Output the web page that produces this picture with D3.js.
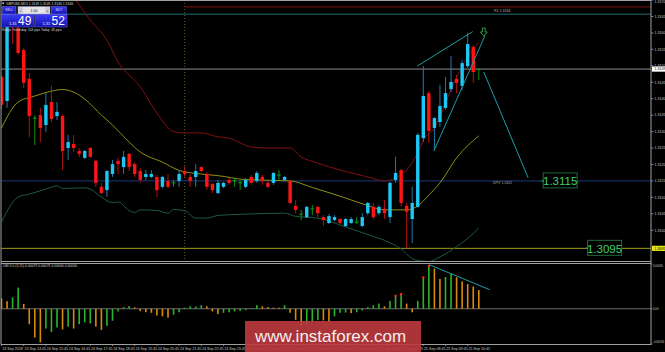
<!DOCTYPE html>
<html>
<head>
<meta charset="utf-8">
<script src="https://cdn.jsdelivr.net/npm/d3@7"></script>
<style>
  html, body { margin: 0; padding: 0; background: #000; }
  svg { display: block; font-family: "Liberation Sans", Arial, sans-serif; }
</style>
</head>
<body>
<svg id="chart" width="665" height="352"></svg>
<script>
const timeLabels = ["24 Sep 2018", "24 Sep 14:45", "24 Sep 15:45", "24 Sep 16:45", "24 Sep 17:45",
  "24 Sep 18:45", "24 Sep 19:45", "24 Sep 20:45", "24 Sep 21:45", "24 Sep 22:45", "24 Sep 23:45",
  "25 Sep 00:45", "25 Sep 01:45", "25 Sep 02:45", "25 Sep 03:45", "25 Sep 04:45", "25 Sep 05:45",
  "25 Sep 06:45", "25 Sep 07:45", "25 Sep 08:45", "25 Sep 09:45", "25 Sep 10:45"];

const priceTicks = [1.3170, 1.3165, 1.3160, 1.3155, 1.3150, 1.3145, 1.3140, 1.3135,
  1.3130, 1.3125, 1.3120, 1.3115, 1.3110, 1.3105, 1.3100];

const opens = [1.31466, 1.31393, 1.31651, 1.31615, 1.31548, 1.31460, 1.31341, 1.31350, 1.31320, 1.31390,
  1.31347, 1.31347, 1.31250, 1.31262, 1.31241, 1.31220, 1.31250, 1.31211, 1.31132, 1.31122,
  1.31171, 1.31211, 1.31192, 1.31232, 1.31201, 1.31180, 1.31162, 1.31162, 1.31162, 1.31132,
  1.31150, 1.31144, 1.31150, 1.31180, 1.31162, 1.31162, 1.31192, 1.31171, 1.31141, 1.31113,
  1.31132, 1.31153, 1.31150, 1.31144, 1.31132, 1.31162, 1.31150, 1.31162, 1.31144, 1.31144,
  1.31168, 1.31153, 1.31150, 1.31074, 1.31049, 1.31040, 1.31065, 1.31071, 1.31040, 1.31022,
  1.31031, 1.31034, 1.31013, 1.31022, 1.31025, 1.31013, 1.31052, 1.31071, 1.31052, 1.31065,
  1.31040, 1.31153, 1.31183, 1.31074, 1.31034, 1.31071, 1.31280, 1.31417, 1.31311, 1.31329,
  1.31372, 1.31429, 1.31460, 1.31439, 1.31499, 1.31557, 1.31490];

const highs = [1.31472, 1.31670, 1.31664, 1.31627, 1.31554, 1.31478, 1.31350, 1.31372, 1.31417, 1.31439,
  1.31390, 1.31353, 1.31290, 1.31290, 1.31250, 1.31244, 1.31253, 1.31214, 1.31144, 1.31183,
  1.31214, 1.31220, 1.31241, 1.31235, 1.31208, 1.31189, 1.31183, 1.31183, 1.31168, 1.31165,
  1.31171, 1.31153, 1.31183, 1.31195, 1.31171, 1.31201, 1.31195, 1.31177, 1.31144, 1.31153,
  1.31147, 1.31159, 1.31159, 1.31153, 1.31159, 1.31168, 1.31180, 1.31168, 1.31150, 1.31177,
  1.31183, 1.31165, 1.31153, 1.31092, 1.31062, 1.31074, 1.31077, 1.31074, 1.31046, 1.31049,
  1.31046, 1.31037, 1.31037, 1.31040, 1.31040, 1.31052, 1.31086, 1.31083, 1.31077, 1.31092,
  1.31147, 1.31223, 1.31186, 1.31083, 1.31132, 1.31296, 1.31499, 1.31423, 1.31344, 1.31442,
  1.31466, 1.31530, 1.31472, 1.31518, 1.31600, 1.31563, 1.31490];

const lows = [1.31366, 1.31372, 1.31566, 1.31533, 1.31432, 1.31284, 1.31259, 1.31268, 1.31299, 1.31329,
  1.31335, 1.31183, 1.31214, 1.31238, 1.31223, 1.31217, 1.31220, 1.31132, 1.31110, 1.31101,
  1.31162, 1.31171, 1.31171, 1.31180, 1.31162, 1.31144, 1.31153, 1.31159, 1.31101, 1.31128,
  1.31128, 1.31132, 1.31132, 1.31162, 1.31132, 1.31132, 1.31177, 1.31122, 1.31113, 1.31110,
  1.31128, 1.31138, 1.31132, 1.31122, 1.31128, 1.31138, 1.31144, 1.31138, 1.31128, 1.31138,
  1.31153, 1.31150, 1.31080, 1.31052, 1.31031, 1.31037, 1.31046, 1.31040, 1.31013, 1.31019,
  1.31028, 1.31019, 1.31010, 1.31019, 1.31019, 1.31010, 1.31046, 1.31034, 1.31046, 1.31034,
  1.31022, 1.31144, 1.31071, 1.30945, 1.30961, 1.31068, 1.31268, 1.31265, 1.31244, 1.31314,
  1.31366, 1.31420, 1.31417, 1.31426, 1.31493, 1.31448, 1.31457];

const closes = [1.31381, 1.31657, 1.31627, 1.31539, 1.31448, 1.31347, 1.31341, 1.31311, 1.31381, 1.31338,
  1.31360, 1.31241, 1.31268, 1.31250, 1.31232, 1.31241, 1.31223, 1.31144, 1.31113, 1.31180,
  1.31201, 1.31201, 1.31223, 1.31192, 1.31171, 1.31153, 1.31171, 1.31171, 1.31122, 1.31162,
  1.31132, 1.31144, 1.31171, 1.31171, 1.31150, 1.31180, 1.31180, 1.31132, 1.31122, 1.31144,
  1.31144, 1.31144, 1.31150, 1.31144, 1.31153, 1.31144, 1.31174, 1.31150, 1.31132, 1.31174,
  1.31168, 1.31162, 1.31083, 1.31062, 1.31049, 1.31071, 1.31065, 1.31052, 1.31031, 1.31043,
  1.31040, 1.31022, 1.31034, 1.31034, 1.31025, 1.31040, 1.31083, 1.31040, 1.31071, 1.31052,
  1.31144, 1.31174, 1.31083, 1.31056, 1.31083, 1.31290, 1.31408, 1.31302, 1.31341, 1.31378,
  1.31417, 1.31451, 1.31448, 1.31508, 1.31566, 1.31481, 1.31490];

const upperBand = [[12, 1.31730], [14, 1.31685], [16, 1.31639], [19, 1.31578], [21, 1.31512], [25, 1.31436],
  [28, 1.31356], [31, 1.31300], [33, 1.31296], [36, 1.31296], [39, 1.31284], [41, 1.31280], [45, 1.31253],
  [48, 1.31250], [52, 1.31250], [54, 1.31223], [57, 1.31204], [61, 1.31183], [66, 1.31162], [69, 1.31150],
  [71, 1.31159], [73, 1.31183], [75, 1.31235], [76, 1.31274], [78, 1.31311], [80, 1.31387], [82, 1.31466],
  [84, 1.31527], [86, 1.31572]];

const middleBand = [[0, 1.31311], [3, 1.31390], [6, 1.31408], [9, 1.31423], [11, 1.31428], [13, 1.31420],
  [15, 1.31399], [18, 1.31350], [20, 1.31320], [23, 1.31268], [25, 1.31238], [29, 1.31207], [32, 1.31182],
  [36, 1.31171], [39, 1.31166], [44, 1.31154], [52, 1.31150], [56, 1.31130], [62, 1.31098], [66, 1.31075],
  [69, 1.31062], [73, 1.31062], [75, 1.31074], [77, 1.31107], [79, 1.31144], [82, 1.31220], [86, 1.31287]];

const lowerBand = [[0, 1.31025], [3, 1.31101], [5, 1.31110], [8, 1.31125], [10, 1.31135], [11, 1.31127],
  [15, 1.31129], [16, 1.31125], [18, 1.31101], [20, 1.31084], [21, 1.31086], [23, 1.31060], [24, 1.31054],
  [25, 1.31062], [28, 1.31060], [30, 1.31052], [31, 1.31063], [33, 1.31059], [35, 1.31037], [37, 1.31037],
  [39, 1.31045], [44, 1.31049], [51, 1.31052], [53, 1.31042], [57, 1.31037], [62, 1.31010], [66, 1.30987],
  [70, 1.30962], [72, 1.30943], [74, 1.30914], [75, 1.30908], [77, 1.30905], [79, 1.30919], [82, 1.30950],
  [84, 1.30975], [86, 1.31007]];

const histValues = [0.00038, 0.00028, 0.00042, 0.00078, 0.00018, -0.00057, -0.00106, -0.00124, -0.00073, -0.00086,
  -0.00069, -0.00076, -0.00066, -0.00073, -0.00057, -0.00050, -0.00054, -0.00066, -0.00078, -0.00063,
  -0.00044, -0.00010, 0.00006, 0.00010, 0.00005, -0.00009, -0.00013, -0.00015, -0.00025, -0.00028,
  -0.00033, -0.00022, -0.00013, 0.00004, 0.00009, 0.00008, 0.00013, 0.00009, -0.00010, -0.00020,
  -0.00015, -0.00013, -0.00010, -0.00008, -0.00005, 0.00001, 0.00013, 0.00009, 0.00006, 0.00004,
  0.00004, 0.00013, -0.00015, -0.00041, -0.00063, -0.00057, -0.00048, -0.00042, -0.00043, -0.00049,
  -0.00028, -0.00015, -0.00014, -0.00016, -0.00013, -0.00006, 0.00006, 0.00013, 0.00019, 0.00009,
  0.00029, 0.00048, 0.00054, 0.00019, -0.00013, 0.00029, 0.00116, 0.00158, 0.00148, 0.00110,
  0.00117, 0.00129, 0.00116, 0.00101, 0.00091, 0.00082, 0.00069];

// u = rising bar, d = falling bar (ten bars per chunk)
const histSignal = ("dduudddduu" + "ududuuuddu" + "uuuudddddd" + "duuuuuuddd" + "uuuuuuuddd" +
  "duddduuudd" + "uuuduuuuud" + "uuudduuudd" + "uuddddd").split("");

const histPeaks = [71, 72, 76, 77];
const histTrend = [[77, 0.00163], [88, 0.00070]];

const wedgeTop = [[74.9, 1.31499], [84.9, 1.31604]];
const wedgeBottom = [[77.9, 1.31241], [87.1, 1.31591]];
const projection = [[86.9, 1.31481], [94.9, 1.31159]];
const arrowAt = [86.9, 1.31615];

const lastPrice = 1.3149;
const r1Level = 1.31657;
const prevHigh = 1.31679;
const dpvLevel = 1.3115;
const supportLevel = 1.30945;
const separatorAt = 33;

const targets = [
  { price: 1.3115, at: 97.6, text: "1.3115" },
  { price: 1.30945, at: 105.6, text: "1.3095" }
];

const subTicks = [0.00165, 0, -0.0013];
const subTickLabels = ["0.00165", "0.00", "-0.00130"];


const svg = d3.select('#chart');
const axisX = 651;
const mainBottom = 261;

const x = d3.scaleLinear().domain([0, 86]).range([1.5, 478.8]);
const y = d3.scaleLinear().domain([1.3095, 1.3170]).range([246.7, 0]);
const ySub = d3.scaleLinear().domain([-0.0013, 0.00165]).range([344, 264]);

const defs = svg.append('defs');
defs.append('clipPath').attr('id', 'clipMain')
    .append('rect').attr('x', 1).attr('y', 0).attr('width', axisX - 1).attr('height', mainBottom);
defs.append('clipPath').attr('id', 'clipSub')
    .append('rect').attr('x', 1).attr('y', 264).attr('width', axisX - 1).attr('height', 80);
const grad = defs.append('linearGradient').attr('id', 'blueBtn')
    .attr('x1', 0).attr('y1', 0).attr('x2', 0).attr('y2', 1);
grad.append('stop').attr('offset', '0%').attr('stop-color', '#3a3af5');
grad.append('stop').attr('offset', '100%').attr('stop-color', '#1414b0');

svg.append('rect').attr('width', 665).attr('height', 352).attr('fill', '#000');

drawLevels();
drawBands();
drawCandles();
drawAnnotations();
drawSubPanel();
drawAxes();
drawFrame();
drawTradePanel();
drawWatermark();


function hLine(g, price, x1, color, dash) {
  g.append('line')
      .attr('x1', x1).attr('x2', axisX)
      .attr('y1', y(price)).attr('y2', y(price))
      .attr('stroke', color).attr('stroke-width', 1)
      .attr('stroke-dasharray', dash || null);
}

function drawLevels() {
  const g = svg.append('g').attr('clip-path', 'url(#clipMain)');

  g.append('line')
      .attr('x1', x(separatorAt)).attr('x2', x(separatorAt))
      .attr('y1', 0).attr('y2', mainBottom)
      .attr('stroke', '#4d5c1c').attr('stroke-dasharray', '1,2');

  hLine(g, prevHigh, x(separatorAt), '#7a1414');
  hLine(g, r1Level, 1, '#1b6f78');
  hLine(g, lastPrice, 1, '#8c8c8c');
  hLine(g, dpvLevel, 1, '#1c3a78');
  hLine(g, supportLevel, 1, '#9c9c1e');

  g.append('text').attr('x', 494).attr('y', y(r1Level) - 2.5)
      .attr('font-size', 3.6).attr('fill', '#b0b0b0').text('R1 1.3166');
  g.append('text').attr('x', 493).attr('y', y(dpvLevel) + 3)
      .attr('font-size', 3.6).attr('fill', '#b0b0b0').text('DPV 1.3115');
}

function drawBands() {
  const g = svg.append('g').attr('clip-path', 'url(#clipMain)');
  const line = d3.line()
      .x(d => x(d[0]))
      .y(d => y(d[1]))
      .curve(d3.curveMonotoneX);

  g.append('path').datum(upperBand).attr('d', line)
      .attr('fill', 'none').attr('stroke', '#7e1212').attr('stroke-width', 1);
  g.append('path').datum(middleBand).attr('d', line)
      .attr('fill', 'none').attr('stroke', '#8f8f12').attr('stroke-width', 1);
  g.append('path').datum(lowerBand).attr('d', line)
      .attr('fill', 'none').attr('stroke', '#1d5a40').attr('stroke-width', 1);
}

function drawCandles() {
  const g = svg.append('g').attr('clip-path', 'url(#clipMain)');
  const data = opens.map((o, i) => ({ i: i, o: o, h: highs[i], l: lows[i], c: closes[i] }));

  const kind = d => d.c > d.o ? 'up' : (d.c < d.o ? 'down' : 'doji');
  const wickColor = { up: '#2a86c0', down: '#c41414', doji: '#12a012' };
  const bodyColor = { up: '#1ec8f5', down: '#ff1414' };

  g.selectAll('line.wick')
      .data(data)
      .enter()
      .append('line')
      .attr('class', 'wick')
      .attr('x1', d => x(d.i)).attr('x2', d => x(d.i))
      .attr('y1', d => y(d.h)).attr('y2', d => y(d.l))
      .attr('stroke', d => wickColor[kind(d)])
      .attr('stroke-width', 0.9);

  g.selectAll('rect.body')
      .data(data.filter(d => kind(d) !== 'doji'))
      .enter()
      .append('rect')
      .attr('class', 'body')
      .attr('x', d => x(d.i) - 1.7)
      .attr('width', 3.4)
      .attr('y', d => y(Math.max(d.o, d.c)))
      .attr('height', d => Math.max(1, Math.abs(y(d.o) - y(d.c))))
      .attr('fill', d => bodyColor[kind(d)]);

  g.selectAll('line.doji')
      .data(data.filter(d => kind(d) === 'doji'))
      .enter()
      .append('line')
      .attr('class', 'doji')
      .attr('x1', d => x(d.i) - 1.9).attr('x2', d => x(d.i) + 1.9)
      .attr('y1', d => y(d.o)).attr('y2', d => y(d.o))
      .attr('stroke', wickColor.doji).attr('stroke-width', 1);
}

function drawAnnotations() {
  const g = svg.append('g').attr('clip-path', 'url(#clipMain)');
  const line = d3.line().x(d => x(d[0])).y(d => y(d[1]));

  [wedgeTop, wedgeBottom, projection].forEach(seg => {
    g.append('path').datum(seg).attr('d', line)
        .attr('fill', 'none').attr('stroke', '#1c9ea6').attr('stroke-width', 1);
  });

  g.append('path')
      .attr('transform', 'translate(' + x(arrowAt[0]) + ',' + y(arrowAt[1]) + ')')
      .attr('d', 'M-1.4,0 h2.8 v4 h2 l-3.4,4.2 l-3.4,-4.2 h2 z')
      .attr('fill', 'none').attr('stroke', '#3aa84e').attr('stroke-width', 0.9);

  targets.forEach(t => {
    const bx = x(t.at), by = y(t.price);
    g.append('rect')
        .attr('x', bx).attr('y', by - 8).attr('width', 34).attr('height', 15)
        .attr('fill', '#000').attr('stroke', '#1f6a3c').attr('stroke-width', 1);
    g.append('circle').attr('cx', bx - 0.5).attr('cy', by).attr('r', 1)
        .attr('fill', '#2fa050');
    g.append('text')
        .attr('x', bx + 17).attr('y', by + 4.2)
        .attr('text-anchor', 'middle')
        .attr('font-size', 11.5)
        .attr('fill', '#3ed26e')
        .text(t.text);
  });
}

function drawSubPanel() {
  const g = svg.append('g').attr('clip-path', 'url(#clipSub)');

  g.append('line')
      .attr('x1', 1).attr('x2', axisX)
      .attr('y1', ySub(0)).attr('y2', ySub(0))
      .attr('stroke', '#6a6a6a').attr('stroke-width', 1);

  g.selectAll('rect.bar')
      .data(histValues)
      .enter()
      .append('rect')
      .attr('class', 'bar')
      .attr('x', (d, i) => x(i) - 0.8)
      .attr('width', 1.6)
      .attr('y', d => Math.min(ySub(d), ySub(0)))
      .attr('height', d => Math.max(0.6, Math.abs(ySub(d) - ySub(0))))
      .attr('fill', (d, i) => histSignal[i] === 'u' ? '#2cb42c' : '#d68a0e');

  g.selectAll('rect.peak')
      .data(histPeaks)
      .enter()
      .append('rect')
      .attr('class', 'peak')
      .attr('x', d => x(d) - 1.1)
      .attr('y', d => ySub(histValues[d]) - 1)
      .attr('width', 2.2).attr('height', 2.2)
      .attr('fill', '#ff2020');

  g.append('path').datum(histTrend)
      .attr('d', d3.line().x(d => x(d[0])).y(d => ySub(d[1])))
      .attr('fill', 'none').attr('stroke', '#1c9ea6').attr('stroke-width', 1);

  svg.append('text').attr('x', 3).attr('y', 267)
      .attr('font-size', 3.4).attr('fill', '#cfcfcf')
      .text('UBI 3.0 (3,15) 0.00079 0.00079 0.00000 0.00000');
}

function drawAxes() {
  const g = svg.append('g');

  g.selectAll('line.ptick')
      .data(priceTicks)
      .enter()
      .append('line')
      .attr('class', 'ptick')
      .attr('x1', axisX).attr('x2', axisX + 2.5)
      .attr('y1', d => y(d)).attr('y2', d => y(d))
      .attr('stroke', '#9a9a9a').attr('stroke-width', 0.8);

  g.selectAll('text.plabel')
      .data(priceTicks)
      .enter()
      .append('text')
      .attr('class', 'plabel')
      .attr('x', axisX + 3.5)
      .attr('y', d => Math.max(3, y(d) + 1.3))
      .attr('font-size', 3.6)
      .attr('fill', '#c8c8c8')
      .text(d => d3.format('.4f')(d));

  const priceTag = (price, text, bg) => {
    g.append('rect')
        .attr('x', axisX + 1).attr('y', y(price) - 2.6)
        .attr('width', 13).attr('height', 5.2).attr('fill', bg);
    g.append('text')
        .attr('x', axisX + 3.5).attr('y', y(price) + 1.3)
        .attr('font-size', 3.6).attr('fill', '#000').text(text);
  };
  priceTag(lastPrice, '1.3149', '#ffffff');
  priceTag(supportLevel, '1.3095', '#e6e614');

  g.selectAll('line.stick')
      .data(subTicks)
      .enter()
      .append('line')
      .attr('class', 'stick')
      .attr('x1', axisX).attr('x2', axisX + 1.5)
      .attr('y1', d => ySub(d)).attr('y2', d => ySub(d))
      .attr('stroke', '#9a9a9a').attr('stroke-width', 0.8);

  g.selectAll('text.slabel')
      .data(subTicks)
      .enter()
      .append('text')
      .attr('class', 'slabel')
      .attr('x', axisX + 2)
      .attr('y', (d, i) => i === 0 ? ySub(d) + 3 : (i === 2 ? ySub(d) - 0.8 : ySub(d) + 1.2))
      .attr('font-size', 2.8)
      .attr('fill', '#c8c8c8')
      .text((d, i) => subTickLabels[i]);

  g.selectAll('line.ttick')
      .data(timeLabels)
      .enter()
      .append('line')
      .attr('class', 'ttick')
      .attr('x1', (d, i) => x(i * 4)).attr('x2', (d, i) => x(i * 4))
      .attr('y1', 344).attr('y2', 346)
      .attr('stroke', '#9a9a9a').attr('stroke-width', 0.8);

  g.selectAll('text.tlabel')
      .data(timeLabels)
      .enter()
      .append('text')
      .attr('class', 'tlabel')
      .attr('x', (d, i) => x(i * 4) + 0.8)
      .attr('y', 349.5)
      .attr('font-size', 3.6)
      .attr('fill', '#c8c8c8')
      .text(d => d);
}

function drawFrame() {
  const g = svg.append('g').attr('stroke', '#a0a0a0').attr('stroke-width', 1);
  g.append('line').attr('x1', 0).attr('x2', axisX).attr('y1', 0.5).attr('y2', 0.5);
  g.append('line').attr('x1', 1).attr('x2', 1).attr('y1', 0).attr('y2', 344.5);
  g.append('line').attr('x1', axisX).attr('x2', axisX).attr('y1', 0).attr('y2', 344.5);
  g.append('line').attr('x1', 1).attr('x2', axisX).attr('y1', mainBottom + 0.5).attr('y2', mainBottom + 0.5);
  g.append('line').attr('x1', 1).attr('x2', axisX).attr('y1', 263.5).attr('y2', 263.5);
  g.append('line').attr('x1', 1).attr('x2', axisX).attr('y1', 344.5).attr('y2', 344.5);
}

function drawTradePanel() {
  const g = svg.append('g');

  g.append('path').attr('d', 'M1.6,2.4 h3 l-1.5,2 z').attr('fill', '#d0d0d0');
  g.append('text').attr('x', 6).attr('y', 4.8)
      .attr('font-size', 3.4).attr('fill', '#dcdcdc')
      .text('GBPUSD,M15  1.3149 1.3149 1.3146 1.3146');

  const btn = (bx, w, label) => {
    g.append('rect').attr('x', bx).attr('y', 6.5).attr('width', w).attr('height', 7.5)
        .attr('fill', 'url(#blueBtn)').attr('stroke', '#7070f0').attr('stroke-width', 0.5);
    g.append('text').attr('x', bx + w / 2).attr('y', 11.4).attr('text-anchor', 'middle')
        .attr('font-size', 3.2).attr('fill', '#dcdcff').text(label);
  };
  btn(2.5, 13.5, 'SELL');
  btn(51.5, 15, 'BUY');

  g.append('rect').attr('x', 18).attr('y', 6.5).attr('width', 32).attr('height', 7.5)
      .attr('fill', '#e4e4ea').attr('stroke', '#9090c0').attr('stroke-width', 0.5);
  g.append('rect').attr('x', 18.8).attr('y', 7.3).attr('width', 4).attr('height', 5.9)
      .attr('fill', '#c8c8d0');
  g.append('rect').attr('x', 45.2).attr('y', 7.3).attr('width', 4).attr('height', 5.9)
      .attr('fill', '#c8c8d0');
  g.append('text').attr('x', 20.8).attr('y', 11.5).attr('text-anchor', 'middle')
      .attr('font-size', 3.4).attr('fill', '#222').text('-');
  g.append('text').attr('x', 47.2).attr('y', 11.5).attr('text-anchor', 'middle')
      .attr('font-size', 3.4).attr('fill', '#222').text('+');
  g.append('text').attr('x', 34).attr('y', 11.5).attr('text-anchor', 'middle')
      .attr('font-size', 3.6).attr('fill', '#111').text('1.00');

  const quote = (bx, w, big, small) => {
    g.append('rect').attr('x', bx).attr('y', 14.5).attr('width', w).attr('height', 12.5)
        .attr('fill', 'url(#blueBtn)').attr('stroke', '#6a6ae8').attr('stroke-width', 0.5);
    g.append('text').attr('x', bx + 7.5).attr('y', 24.5)
        .attr('font-size', 4).attr('fill', '#e8e8ff').text(small);
    g.append('text').attr('x', bx + 16.5).attr('y', 25.3)
        .attr('font-size', 12).attr('fill', '#ffffff').text(big);
  };
  quote(1.5, 32.5, '49', '1.31');
  quote(35, 32, '52', '1.31');

  g.append('text').attr('x', 2).attr('y', 30.6)
      .attr('font-size', 3.2).attr('fill', '#d8d8d8')
      .text('Range  Yesterday: 104 pips  Today: 46 pips');
}

function drawWatermark() {
  svg.append('rect')
      .attr('x', 245).attr('y', 321).attr('width', 176).attr('height', 31)
      .attr('fill', '#bc3a3e').attr('opacity', 0.9);
  svg.append('text')
      .attr('x', 255).attr('y', 341.5)
      .attr('font-size', 17)
      .attr('fill', '#f6eeee')
      .text('www.instaforex.com');
}
</script>
</body>
</html>
